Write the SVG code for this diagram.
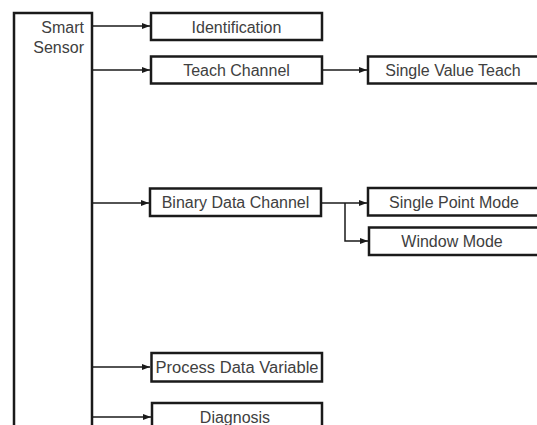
<svg xmlns="http://www.w3.org/2000/svg" width="537" height="425" viewBox="0 0 537 425">
  <defs>
    <marker id="arrow" viewBox="0 0 8 8" refX="8" refY="4" markerWidth="8" markerHeight="8" markerUnits="userSpaceOnUse" orient="auto">
      <path d="M0,1 L8,4 L0,7 Z" fill="#1a1a1a"/>
    </marker>
  </defs>
  <style>
    .box { fill: #ffffff; stroke: #1a1a1a; stroke-width: 2.5; }
    .frame { fill: none; stroke: #1a1a1a; stroke-width: 2.5; }
    .link { fill: none; stroke: #1a1a1a; stroke-width: 1.5; }
    .label { font-family: "Liberation Sans", Arial, sans-serif; font-size: 16px; fill: #404040; text-anchor: middle; }
    .side { font-family: "Liberation Sans", Arial, sans-serif; font-size: 16px; fill: #404040; text-anchor: end; }
  </style>
  <rect width="537" height="425" fill="#ffffff"/>

  <!-- connectors -->
  <g id="connectors">
    <line class="link" x1="92" y1="26" x2="150" y2="26" marker-end="url(#arrow)"/>
    <line class="link" x1="92" y1="70" x2="150" y2="70" marker-end="url(#arrow)"/>
    <line class="link" x1="322" y1="70" x2="367" y2="70" marker-end="url(#arrow)"/>
    <line class="link" x1="92" y1="203" x2="149" y2="203" marker-end="url(#arrow)"/>
    <line class="link" x1="321" y1="203" x2="367" y2="203" marker-end="url(#arrow)"/>
    <polyline class="link" points="345,203 345,241 368,241" marker-end="url(#arrow)"/>
    <line class="link" x1="92" y1="367" x2="150" y2="367" marker-end="url(#arrow)"/>
    <line class="link" x1="92" y1="417" x2="151" y2="417" marker-end="url(#arrow)"/>
  </g>

  <!-- root sensor column -->
  <g id="smart-sensor">
    <path class="frame" d="M14,430 V13 H92 V430"/>
    <text class="side" x="84" y="33">Smart</text>
    <text class="side" x="84" y="53">Sensor</text>
  </g>

  <g id="identification">
    <rect class="box" x="151" y="13" width="171" height="27"/>
    <text class="label" x="236.5" y="33">Identification</text>
  </g>

  <g id="teach-channel">
    <rect class="box" x="151" y="56.5" width="171" height="27"/>
    <text class="label" x="236.5" y="76">Teach Channel</text>
  </g>

  <g id="single-value-teach">
    <rect class="box" x="368" y="56.5" width="172" height="27"/>
    <text class="label" x="453" y="76">Single Value Teach</text>
  </g>

  <g id="binary-data-channel">
    <rect class="box" x="150" y="188.5" width="171" height="27.5"/>
    <text class="label" x="235.5" y="208">Binary Data Channel</text>
  </g>

  <g id="single-point-mode">
    <rect class="box" x="368" y="188" width="172" height="27.5"/>
    <text class="label" x="454" y="208">Single Point Mode</text>
  </g>

  <g id="window-mode">
    <rect class="box" x="369" y="227.5" width="172" height="27.5"/>
    <text class="label" x="452" y="247">Window Mode</text>
  </g>

  <g id="process-data-variable">
    <rect class="box" x="151.5" y="353" width="170.5" height="28.5"/>
    <text class="label" x="237" y="373" textLength="163" lengthAdjust="spacingAndGlyphs">Process Data Variable</text>
  </g>

  <g id="diagnosis">
    <rect class="box" x="152" y="403" width="170" height="30"/>
    <text class="label" x="235" y="423">Diagnosis</text>
  </g>
</svg>
